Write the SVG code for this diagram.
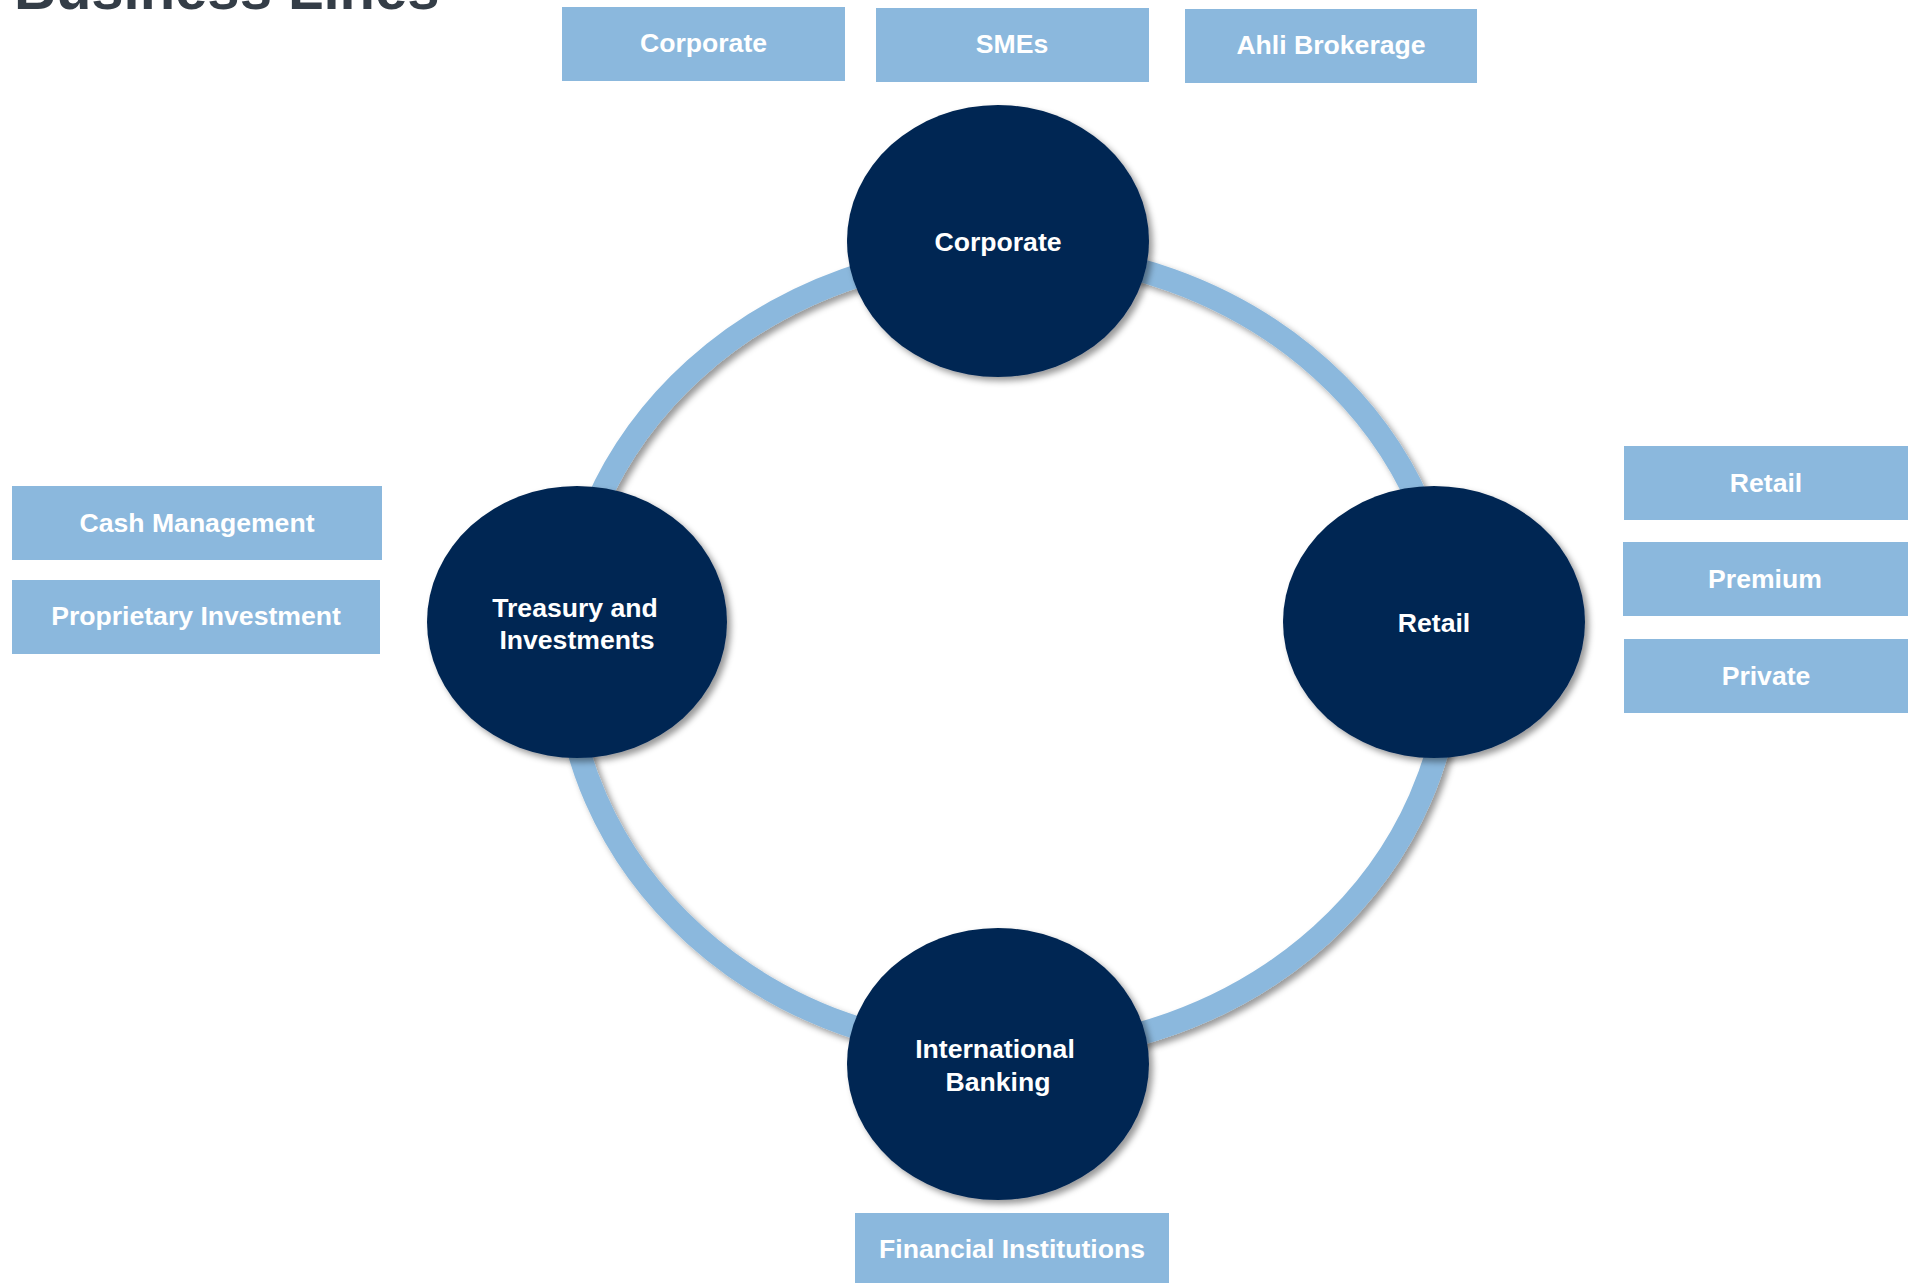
<svg xmlns="http://www.w3.org/2000/svg" width="1915" height="1283" viewBox="0 0 1915 1283">
  <defs>
    <filter id="shadow" x="-20%" y="-20%" width="140%" height="140%">
      <feDropShadow dx="4" dy="4" stdDeviation="3" flood-color="#000" flood-opacity="0.4"/>
    </filter>
  </defs>
  <style>
    .title { font-family: "Liberation Sans", Arial, sans-serif; font-weight: bold; font-size: 58px; fill: #343d47; }
    .box { fill: #8bb8dd; }
    .boxtext { font-family: "Liberation Sans", Arial, sans-serif; font-weight: bold; font-size: 26.6px; fill: #ffffff; text-anchor: middle; }
    .node { fill: #022652; filter: url(#shadow); }
    .nodetext { font-family: "Liberation Sans", Arial, sans-serif; font-weight: bold; font-size: 26.6px; fill: #ffffff; text-anchor: middle; }
    .ring { fill: none; stroke: #8bb8dd; stroke-width: 23; filter: url(#shadow); }
  </style>
  <rect x="0" y="0" width="1915" height="1283" fill="#ffffff"/>
  <text class="title" x="14" y="9">Business Lines</text>

  <g id="connectors">
    <ellipse class="ring" cx="1008" cy="652" rx="443" ry="400"/>
  </g>

  <g id="node-corporate">
    <ellipse class="node" cx="998" cy="241" rx="151" ry="136"/>
    <text class="nodetext" x="998" y="251">Corporate</text>
  </g>
  <g id="node-treasury">
    <ellipse class="node" cx="577" cy="622" rx="150" ry="136"/>
    <text class="nodetext" x="575" y="617">Treasury and</text>
    <text class="nodetext" x="577" y="649">Investments</text>
  </g>
  <g id="node-retail">
    <ellipse class="node" cx="1434" cy="622" rx="151" ry="136"/>
    <text class="nodetext" x="1434" y="632">Retail</text>
  </g>
  <g id="node-international">
    <ellipse class="node" cx="998" cy="1064" rx="151" ry="136"/>
    <text class="nodetext" x="995" y="1058">International</text>
    <text class="nodetext" x="998" y="1091">Banking</text>
  </g>

  <g id="box-corporate">
    <rect class="box" x="562" y="7" width="283" height="74"/>
    <text class="boxtext" x="703.5" y="52">Corporate</text>
  </g>
  <g id="box-smes">
    <rect class="box" x="876" y="8" width="273" height="74"/>
    <text class="boxtext" x="1012" y="53">SMEs</text>
  </g>
  <g id="box-ahli-brokerage">
    <rect class="box" x="1185" y="9" width="292" height="74"/>
    <text class="boxtext" x="1331" y="54">Ahli Brokerage</text>
  </g>
  <g id="box-cash-management">
    <rect class="box" x="12" y="486" width="370" height="74"/>
    <text class="boxtext" x="197" y="532">Cash Management</text>
  </g>
  <g id="box-proprietary-investment">
    <rect class="box" x="12" y="580" width="368" height="74"/>
    <text class="boxtext" x="196" y="625">Proprietary Investment</text>
  </g>
  <g id="box-retail">
    <rect class="box" x="1624" y="446" width="284" height="74"/>
    <text class="boxtext" x="1766" y="492">Retail</text>
  </g>
  <g id="box-premium">
    <rect class="box" x="1623" y="542" width="285" height="74"/>
    <text class="boxtext" x="1765" y="588">Premium</text>
  </g>
  <g id="box-private">
    <rect class="box" x="1624" y="639" width="284" height="74"/>
    <text class="boxtext" x="1766" y="685">Private</text>
  </g>
  <g id="box-financial-institutions">
    <rect class="box" x="855" y="1213" width="314" height="70"/>
    <text class="boxtext" x="1012" y="1258">Financial Institutions</text>
  </g>
</svg>
